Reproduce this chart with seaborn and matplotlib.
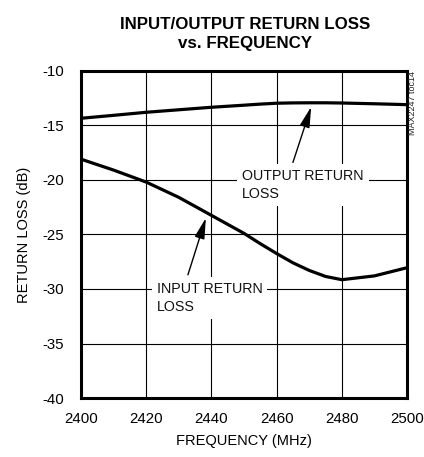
import matplotlib
matplotlib.use("Agg")
import matplotlib.pyplot as plt
import seaborn as sns
import pandas as pd

freq = [2400, 2410, 2420, 2430, 2440, 2450, 2455, 2460, 2465, 2470, 2475, 2480, 2490, 2500]
output_rl = [-14.35, -14.08, -13.8, -13.57, -13.34, -13.15, -13.05, -12.97, -12.94, -12.93, -12.93, -12.95, -13.02, -13.1]
input_rl = [-18.1, -19.1, -20.2, -21.6, -23.25, -24.9, -25.85, -26.75, -27.6, -28.3, -28.85, -29.15, -28.8, -28.05]
xticks = [2400, 2420, 2440, 2460, 2480, 2500]
yticks = [-40, -35, -30, -25, -20, -15, -10]

sns.set_theme(style="white")
plt.rcParams['font.family'] = ['Liberation Sans', 'DejaVu Sans']

df = pd.DataFrame({
    'freq': freq * 2,
    'rl': output_rl + input_rl,
    'series': ['OUTPUT'] * len(freq) + ['INPUT'] * len(freq),
})

fig = plt.figure(figsize=(4.24, 4.57), dpi=100)
ax = fig.add_axes([0.191, 0.129, 0.769, 0.716])
sns.lineplot(data=df, x='freq', y='rl', units='series', estimator=None,
             color='black', linewidth=2.3, ax=ax, zorder=3)

ax.set_xlim(2400, 2500)
ax.set_ylim(-40, -10)
ax.set_xticks(xticks)
ax.set_yticks(yticks)
ax.set_xticklabels([str(t) for t in xticks])
ax.set_yticklabels([str(t) for t in yticks])
ax.tick_params(axis='both', length=0, labelsize=10.8, colors='black')
ax.tick_params(axis='y', pad=12)
ax.tick_params(axis='x', pad=10)
ax.grid(True, color='black', linewidth=0.8)
for s in ax.spines.values():
    s.set_linewidth(2.2)
    s.set_color('black')
    s.set_zorder(5)

ax.set_xlabel('FREQUENCY (MHz)', fontsize=10.5, color='black', labelpad=6)
ax.set_ylabel('RETURN LOSS (dB)', fontsize=10.5, color='black', labelpad=8)

fig.text(0.577, 0.926, 'INPUT/OUTPUT RETURN LOSS\nvs. FREQUENCY', ha='center', va='center',
         fontsize=12.2, fontweight='bold', linespacing=1.3, color='black')

fig.text(0.972, 0.845, 'MAX2247 toc14', rotation=90, ha='center', va='top',
         fontsize=6.5, color='#222222')

box = dict(boxstyle='square,pad=0.35', facecolor='white', edgecolor='none')
ax.text(2449.4, -20.45, 'OUTPUT RETURN\nLOSS', ha='left', va='center', fontsize=10.3,
        linespacing=1.35, bbox=box, zorder=4, color='#111111')
ax.text(2423.2, -30.8, 'INPUT RETURN\nLOSS', ha='left', va='center', fontsize=10.3,
        linespacing=1.35, bbox=box, zorder=4, color='#111111')

arrow = dict(arrowstyle='-|>,head_length=0.9,head_width=0.22', color='black', lw=1.0,
             mutation_scale=14, shrinkA=0, shrinkB=0)
ax.annotate('', xy=(2470.6, -13.3), xytext=(2465.0, -18.4), arrowprops=arrow, zorder=4)
ax.annotate('', xy=(2438.3, -23.5), xytext=(2432.8, -28.7), arrowprops=arrow, zorder=4)

fig.savefig('out.png', dpi=100)
